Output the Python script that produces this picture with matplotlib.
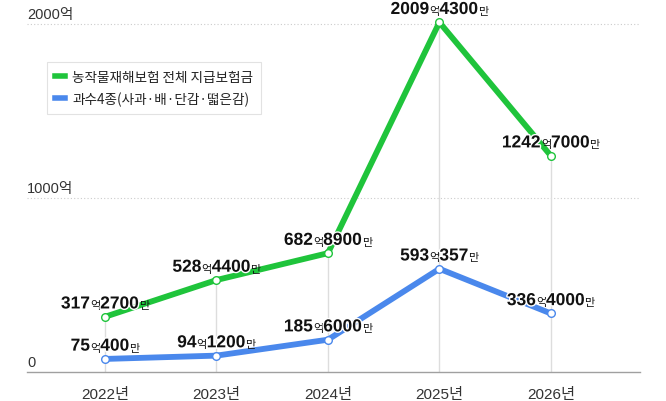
import matplotlib
matplotlib.use('Agg')
import matplotlib.pyplot as plt
import matplotlib.font_manager as fm
import matplotlib.patheffects as pe
from matplotlib.lines import Line2D

# 연도별 지급보험금 (단위: 억원)
years = [2022, 2023, 2024, 2025, 2026]
year_labels = ['2022년', '2023년', '2024년', '2025년', '2026년']
total_pay = [317.27, 528.44, 682.89, 2009.43, 1242.70]
fruit_pay = [75.04, 94.12, 185.60, 593.0357, 336.40]
total_text = [('317', '2700'), ('528', '4400'), ('682', '8900'), ('2009', '4300'), ('1242', '7000')]
fruit_text = [('75', '400'), ('94', '1200'), ('185', '6000'), ('593', '357'), ('336', '4000')]
series_names = ['농작물재해보험 전체 지급보험금', '과수4종(사과·배·단감·떫은감)']
y_ticks = [0, 1000, 2000]
y_tick_labels = ['0', '1000억', '2000억']

GREEN = '#1fc43b'
BLUE = '#4a88ec'

names = {f.name for f in fm.fontManager.ttflist}
narrow = 'Liberation Sans Narrow' if 'Liberation Sans Narrow' in names else 'Liberation Sans'
KR = 'Noto Sans CJK KR'

fig = plt.figure(figsize=(6.66, 4.02), dpi=100)
ax = fig.add_axes([27 / 666, 29 / 402, 613 / 666, 372.4 / 402])
ax.set_xlim(2021.30, 2026.80)
ax.set_ylim(0, 2140)

for s in ['top', 'right', 'left']:
    ax.spines[s].set_visible(False)
ax.spines['bottom'].set_color('#a0a0a0')
ax.spines['bottom'].set_linewidth(1.0)
ax.set_yticks([])
ax.set_xticks(years)
ax.set_xticklabels(year_labels, family=[narrow, KR], fontsize=11, color='#333333')
ax.tick_params(axis='x', length=0, pad=11)

# 가로 점선 그리드 + 눈금 글자
for v, lab in zip(y_ticks, y_tick_labels):
    if v > 0:
        ax.axhline(v, color='#cccccc', lw=0.8, ls=(0, (1, 2)), zorder=1)
    ax.annotate(lab, xy=(0, v), xycoords=('axes fraction', 'data'),
                xytext=(0, 2), textcoords='offset points', ha='left', va='bottom',
                family=[narrow, KR], fontsize=10.5, color='#333333')

# 세로선
ax.vlines(years, 0, total_pay, color='#dddddd', lw=1, zorder=1)

ax.plot(years, total_pay, color=GREEN, lw=4.2, marker='o', ms=5.5, mfc='white',
        mec=GREEN, mew=1, solid_capstyle='round', zorder=3, clip_on=False)
ax.plot(years, fruit_pay, color=BLUE, lw=4.2, marker='o', ms=5.5, mfc='white',
        mec=BLUE, mew=1, solid_capstyle='round', zorder=3, clip_on=False)

renderer = fig.canvas.get_renderer()
big = fm.FontProperties(family='Liberation Sans', weight='bold', size=12.5)
small = fm.FontProperties(family=KR, size=8)
halo = [pe.withStroke(linewidth=2, foreground='white')]


def width_pt(s, prop):
    w, h, d = renderer.get_text_width_height_descent(s, prop, ismath=False)
    return w * 72 / fig.dpi


def value_label(x, y, eok, man):
    parts = [(eok, big), ('억', small), (man, big), ('만', small)]
    total = sum(width_pt(s, p) for s, p in parts)
    off = -total / 2
    for s, p in parts:
        ax.annotate(s, xy=(x, y), xytext=(off, 6), textcoords='offset points',
                    ha='left', va='baseline', fontproperties=p, color='#111111',
                    zorder=5, annotation_clip=False,
                    path_effects=halo if p is big else None)
        off += width_pt(s, p)


for x, y, t in zip(years, total_pay, total_text):
    value_label(x, y, *t)
for x, y, t in zip(years, fruit_pay, fruit_text):
    value_label(x, y, *t)

handles = [Line2D([], [], color=GREEN, lw=4), Line2D([], [], color=BLUE, lw=4)]
leg = ax.legend(handles, series_names, loc='upper left',
                bbox_to_anchor=(47 / 666, 1 - 63 / 402), bbox_transform=fig.transFigure,
                borderaxespad=0, fancybox=False, framealpha=1, edgecolor='#e2e2e2',
                handlelength=0.75, handletextpad=0.5, labelspacing=0.55,
                borderpad=0.6, prop=fm.FontProperties(family=KR, size=9.8))
leg.get_frame().set_linewidth(0.8)
for t in leg.get_texts():
    t.set_color('#222222')

fig.savefig('out.png', dpi=100)
